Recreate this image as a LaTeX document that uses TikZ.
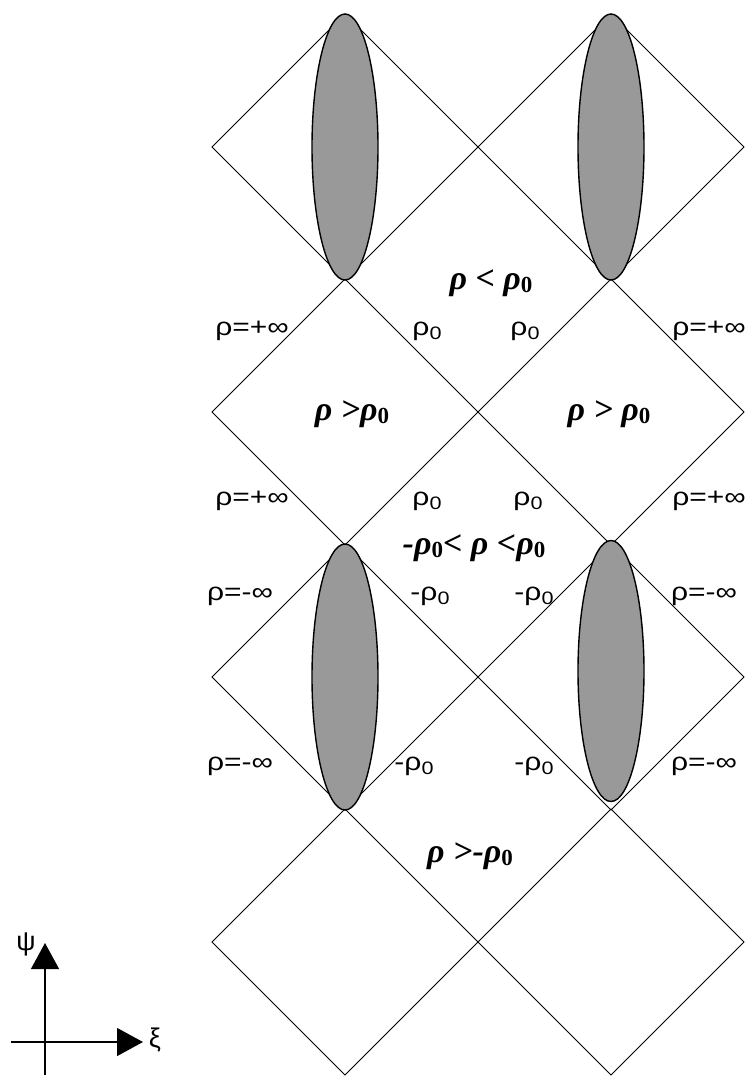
\documentclass[tikz,border=0pt]{standalone}
\usepackage{fontspec}
\usetikzlibrary{shapes.geometric,arrows.meta}
\newfontfamily\lblfont{Liberation Sans}
\newfontfamily\regfont{Liberation Serif}
% small lowered zero used after rho
\newcommand{\sz}{\raisebox{-4pt}{\fontsize{18}{18}\selectfont 0}}
\newcommand{\bz}{\raisebox{-3pt}{\upshape\fontsize{23}{23}\selectfont 0}}
\newcommand{\wide}[1]{\scalebox{1.2}[1]{#1}}
\begin{document}
\begin{tikzpicture}[x=1pt,y=-1pt,
  edge/.style={line width=1pt,black},
  blob/.style={ellipse,draw=black,line width=1.4pt,fill={rgb,255:red,153;green,153;blue,153},
    minimum width=66pt,minimum height=266pt,inner sep=0pt},
  bound/.style={font=\lblfont\fontsize{25}{25}\selectfont,inner sep=0pt,anchor=base},
  region/.style={font=\regfont\bfseries\itshape\fontsize{34}{34}\selectfont,inner sep=0pt,anchor=base},
  axis/.style={line width=1.2pt,-{Triangle[length=26pt,width=28pt]}}]
\useasboundingbox (0,0) rectangle (752,1077);
% vertices of the diamond lattice
\foreach \c/\cx in {a/345,b/611}{
  \foreach \r/\cy in {1/147,2/412,3/677,4/942}{
    \coordinate (\c\r-t) at (\cx,\cy-133);
    \coordinate (\c\r-b) at (\cx,\cy+133);
    \coordinate (\c\r-l) at (\cx-133,\cy);
    \coordinate (\c\r-r) at (\cx+133,\cy);
    \draw[edge] (\c\r-t) -- (\c\r-r) -- (\c\r-b) -- (\c\r-l) -- cycle;
  }
}
% shaded regions
\node[blob] (e1) at (345,147) {};
\node[blob] (e2) at (611,147) {};
\node[blob] (e3) at (345,677) {};
\node[blob,minimum height=261pt] (e4) at (611,671) {};
% boundary labels
\node[bound] (u1) at (252,335) {\wide{ρ=+∞}};
\node[bound] (u2) at (709,335) {\wide{ρ=+∞}};
\node[bound] (u3) at (427,335) {\wide{ρ\sz}};
\node[bound] (u4) at (525,335) {\wide{ρ\sz}};
\node[bound] (v1) at (252,505) {\wide{ρ=+∞}};
\node[bound] (v2) at (709,505) {\wide{ρ=+∞}};
\node[bound] (v3) at (427,505) {\wide{ρ\sz}};
\node[bound] (v4) at (528,505) {\wide{ρ\sz}};
\node[bound] (w1) at (240,600) {\wide{ρ=-∞}};
\node[bound] (w2) at (704,600) {\wide{ρ=-∞}};
\node[bound] (w3) at (430,600) {\wide{-ρ\sz}};
\node[bound] (w4) at (534,600) {\wide{-ρ\sz}};
\node[bound] (z1) at (240,770) {\wide{ρ=-∞}};
\node[bound] (z2) at (704,770) {\wide{ρ=-∞}};
\node[bound] (z3) at (414,770) {\wide{-ρ\sz}};
\node[bound] (z4) at (534,770) {\wide{-ρ\sz}};
% region labels
\node[region] (g1) at (491,289) {ρ < ρ\bz};
\node[region] (g2) at (352,420) {ρ >ρ\bz};
\node[region] (g3) at (609,420) {ρ > ρ\bz};
\node[region] (g4) at (474,554) {-ρ\bz< ρ <ρ\bz};
\node[region] (g5) at (470,862) {ρ >-ρ\bz};
% coordinate axes
\coordinate (o) at (45,1042);
\coordinate (ybot) at (45,1075);
\coordinate (ytop) at (45,943);
\coordinate (xleft) at (11,1042);
\coordinate (xright) at (143,1042);
\draw[line width=1.2pt] (o) -- (ybot);
\draw[line width=1.2pt] (xleft) -- (o);
\draw[axis] (o) -- (ytop);
\draw[axis] (o) -- (xright);
\node[font=\lblfont\fontsize{27}{27}\selectfont,inner sep=0pt] (psi) at (26,944) {ψ};
\node[font=\lblfont\fontsize{27}{27}\selectfont,inner sep=0pt] (xi) at (155,1040) {ξ};
\end{tikzpicture}
\end{document}
